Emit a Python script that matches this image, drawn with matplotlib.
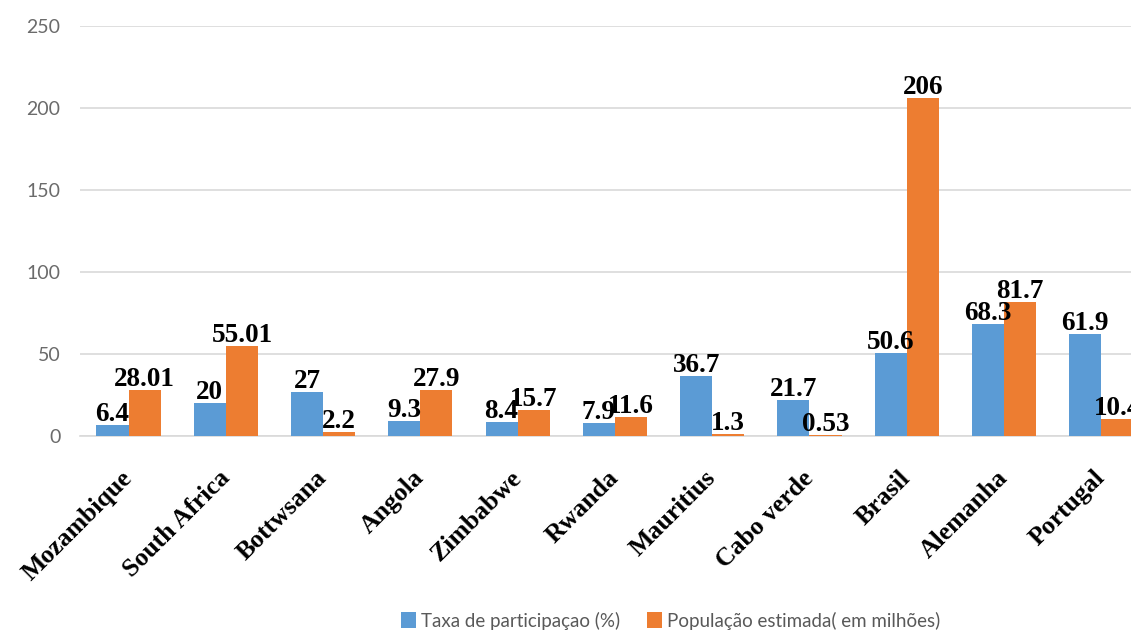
import matplotlib.pyplot as plt
import matplotlib.transforms as mtransforms
import numpy as np

countries = ["Mozambique", "South Africa", "Bottwsana", "Angola", "Zimbabwe", "Rwanda",
             "Mauritius", "Cabo verde", "Brasil", "Alemanha", "Portugal"]
taxa = [6.4, 20, 27, 9.3, 8.4, 7.9, 36.7, 21.7, 50.6, 68.3, 61.9]
populacao = [28.01, 55.01, 2.2, 27.9, 15.7, 11.6, 1.3, 0.53, 206, 81.7, 10.4]
taxa_labels = ["6.4", "20", "27", "9.3", "8.4", "7.9", "36.7", "21.7", "50.6", "68.3", "61.9"]
pop_labels = ["28.01", "55.01", "2.2", "27.9", "15.7", "11.6", "1.3", "0.53", "206", "81.7", "10.4"]

blue = "#5B9BD5"
orange = "#ED7D31"

fig = plt.figure(figsize=(11.31, 6.4), dpi=100)
# axes runs past the right edge of the figure, so the last group is clipped
ax = fig.add_axes([0.0707, 0.319, 0.946, 0.64])

x = np.arange(len(countries))
w = 0.33
b1 = ax.bar(x - w / 2, taxa, w, color=blue, label="Taxa de participaçao (%)", zorder=3)
b2 = ax.bar(x + w / 2, populacao, w, color=orange, label="População estimada( em milhões)", zorder=3)

lab_font = dict(family="Liberation Serif", fontsize=19.5, fontweight="bold", color="black")
for bars, labels in [(b1, taxa_labels), (b2, pop_labels)]:
    for rect, txt in zip(bars, labels):
        ax.text(rect.get_x() + rect.get_width() / 2, rect.get_height() + 2.5, txt,
                ha="center", va="baseline", zorder=4, **lab_font)

ax.set_xlim(-0.5, len(countries) - 0.5)
ax.set_ylim(0, 250)
ax.set_yticks([0, 50, 100, 150, 200, 250])
ax.yaxis.grid(True, color="#d9d9d9", linewidth=1.2, zorder=0)
ax.set_axisbelow(True)
for s in ["top", "right", "left"]:
    ax.spines[s].set_visible(False)
ax.spines["bottom"].set_color("#d9d9d9")
ax.spines["bottom"].set_linewidth(1.2)
ax.tick_params(axis="both", length=0)
ax.tick_params(axis="y", labelsize=14, labelcolor="#6b6b6b", pad=14)
for t in ax.get_yticklabels():
    t.set_family("Lato")

ax.set_xticks(x)
ax.set_xticklabels(countries, rotation=45, ha="right", rotation_mode="anchor",
                   family="Liberation Serif", fontsize=18.5, fontweight="bold")
ax.tick_params(axis="x", pad=22)
# nudge the slanted country names a little to the left
shift = mtransforms.ScaledTranslation(-8 / 100, 0, fig.dpi_scale_trans)
for t in ax.get_xticklabels():
    t.set_transform(t.get_transform() + shift)

leg = fig.legend(handles=[b1, b2], loc="lower center", bbox_to_anchor=(0.593, -0.01), ncol=2,
                 frameon=False, handlelength=0.8, handleheight=0.9, handletextpad=0.3,
                 columnspacing=1.4, prop={"family": "Lato", "size": 13.5})
for t in leg.get_texts():
    t.set_color("#595959")

fig.savefig("out.png", dpi=100)
